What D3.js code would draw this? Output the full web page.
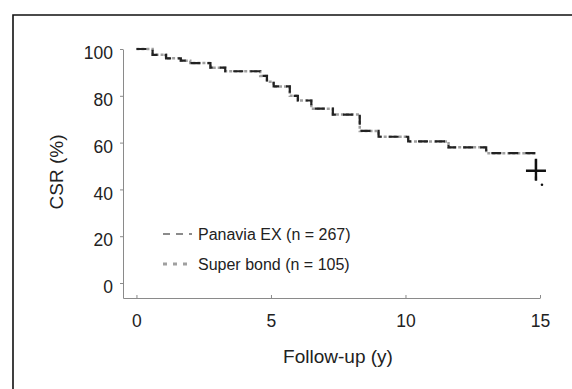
<!DOCTYPE html>
<html>
<head>
<meta charset="utf-8">
<script src="https://cdn.jsdelivr.net/npm/d3@7"></script>
<style>
  body { margin: 0; background: #fff; }
  svg { display: block; font-family: "Liberation Sans", Arial, sans-serif; }
</style>
</head>
<body>
<div id="chart"></div>
<script>
// follow-up years and cumulative survival rate (%)
const panaviaYears = [0, 0.6, 1.1, 1.65, 2.0, 2.75, 3.3, 4.6, 4.85, 5.1, 5.7, 6.0, 6.5, 7.3, 8.3, 9.0, 10.1, 11.6, 13.0, 14.85];
const panaviaCSR   = [100, 97.5, 96, 95, 94, 92, 90.5, 88.5, 86, 84, 80, 78, 74.5, 72, 65, 62.5, 60.5, 58, 55.5, 55.5];
const superYears   = [0, 0.6, 1.1, 1.65, 2.0, 2.75, 3.3, 4.6, 4.85, 5.1, 5.7, 6.0, 6.5, 7.3, 8.3, 9.0, 10.1, 11.6, 13.0, 14.85];
const superCSR     = [100, 97.5, 96, 95, 94, 92, 90.5, 88.5, 86, 84, 80, 78, 74.5, 72, 65, 62.5, 60.5, 58, 55.5, 55.5];
const lastDrop = {year: 14.85, csr: 44};
const censorMark = {year: 14.85, csr: 48};
const xTicks = [0, 5, 10, 15];
const yTicks = [0, 20, 40, 60, 80, 100];
const legendLabels = ["Panavia EX (n = 267)", "Super bond (n = 105)"];

const W = 572, H = 389;

const svg = d3.select('#chart')
    .append('svg')
    .attr('width', W)
    .attr('height', H);

// frame (only top and left edges show in the scan)
svg.append('path')
    .attr('d', `M13,${H} L13,15 L${W},15`)
    .attr('fill', 'none')
    .attr('stroke', '#111')
    .attr('stroke-width', 1.6);

const x = d3.scaleLinear().domain([-0.5, 15]).range([123, 540]);
const y = d3.scaleLinear().domain([-6.4, 100]).range([298, 49]);

// axes
const xAxis = d3.axisBottom(x).tickValues(xTicks).tickSize(3).tickSizeOuter(0).tickPadding(14);
const yAxis = d3.axisLeft(y).tickValues(yTicks).tickSize(3).tickSizeOuter(0).tickPadding(7);

const gx = svg.append('g')
    .attr('transform', `translate(0, ${y(-6.4)})`)
    .call(xAxis);
const gy = svg.append('g')
    .attr('transform', `translate(${x(-0.5)}, 0)`)
    .call(yAxis);

[gx, gy].forEach(g => {
    g.select('.domain').attr('stroke', '#8a8a8a').attr('stroke-width', 1);
    g.selectAll('.tick line').attr('stroke', '#8a8a8a');
    g.selectAll('.tick text').attr('fill', '#222').attr('font-size', 17.5);
});
gx.selectAll('.tick line').attr('transform', 'translate(0,-3)');
gy.selectAll('.tick text').attr('dy', '0.55em');

svg.append('text')
    .attr('x', 338).attr('y', 363)
    .attr('text-anchor', 'middle')
    .attr('font-size', 19)
    .attr('fill', '#222')
    .text('Follow-up (y)');

svg.append('text')
    .attr('transform', 'translate(63,172) rotate(-90)')
    .attr('text-anchor', 'middle')
    .attr('font-size', 19)
    .attr('fill', '#222')
    .text('CSR (%)');

// survival curves
const line = d3.line()
    .x(d => x(d[0]))
    .y(d => y(d[1]))
    .curve(d3.curveStepAfter);

const superPts = superYears.map((t, i) => [t, superCSR[i]]);
const panaviaPts = panaviaYears.map((t, i) => [t, panaviaCSR[i]]);
panaviaPts.push([lastDrop.year, lastDrop.csr]);

svg.append('path')
    .datum(superPts)
    .attr('d', line)
    .attr('fill', 'none')
    .attr('stroke', '#a0a0a0')
    .attr('stroke-width', 2.5)
    .attr('stroke-dasharray', '3,2');

svg.append('path')
    .datum(panaviaPts)
    .attr('d', line)
    .attr('fill', 'none')
    .attr('stroke', '#222')
    .attr('stroke-width', 2.2)
    .attr('stroke-dasharray', '10,7');

// censor plus at the end
const cx = x(censorMark.year), cy = y(censorMark.csr);
svg.append('path')
    .attr('d', `M${cx - 10},${cy} L${cx + 10},${cy} M${cx},${cy - 12} L${cx},${cy + 10}`)
    .attr('stroke', '#111')
    .attr('stroke-width', 2.4);
svg.append('circle')
    .attr('cx', cx + 6).attr('cy', y(42))
    .attr('r', 1.3)
    .attr('fill', '#111');

// legend
const legend = svg.append('g');
legendLabels.forEach((lab, i) => {
    const ly = 234 + i * 30;
    legend.append('line')
        .attr('x1', 163).attr('x2', 192)
        .attr('y1', ly).attr('y2', ly)
        .attr('stroke', i === 0 ? '#666' : '#a0a0a0')
        .attr('stroke-width', i === 0 ? 1.5 : 3)
        .attr('stroke-dasharray', i === 0 ? '7,6' : '4,6');
    legend.append('text')
        .attr('x', 198).attr('y', ly + 6)
        .attr('font-size', 16)
        .attr('fill', '#222')
        .text(lab);
});
</script>
</body>
</html>
